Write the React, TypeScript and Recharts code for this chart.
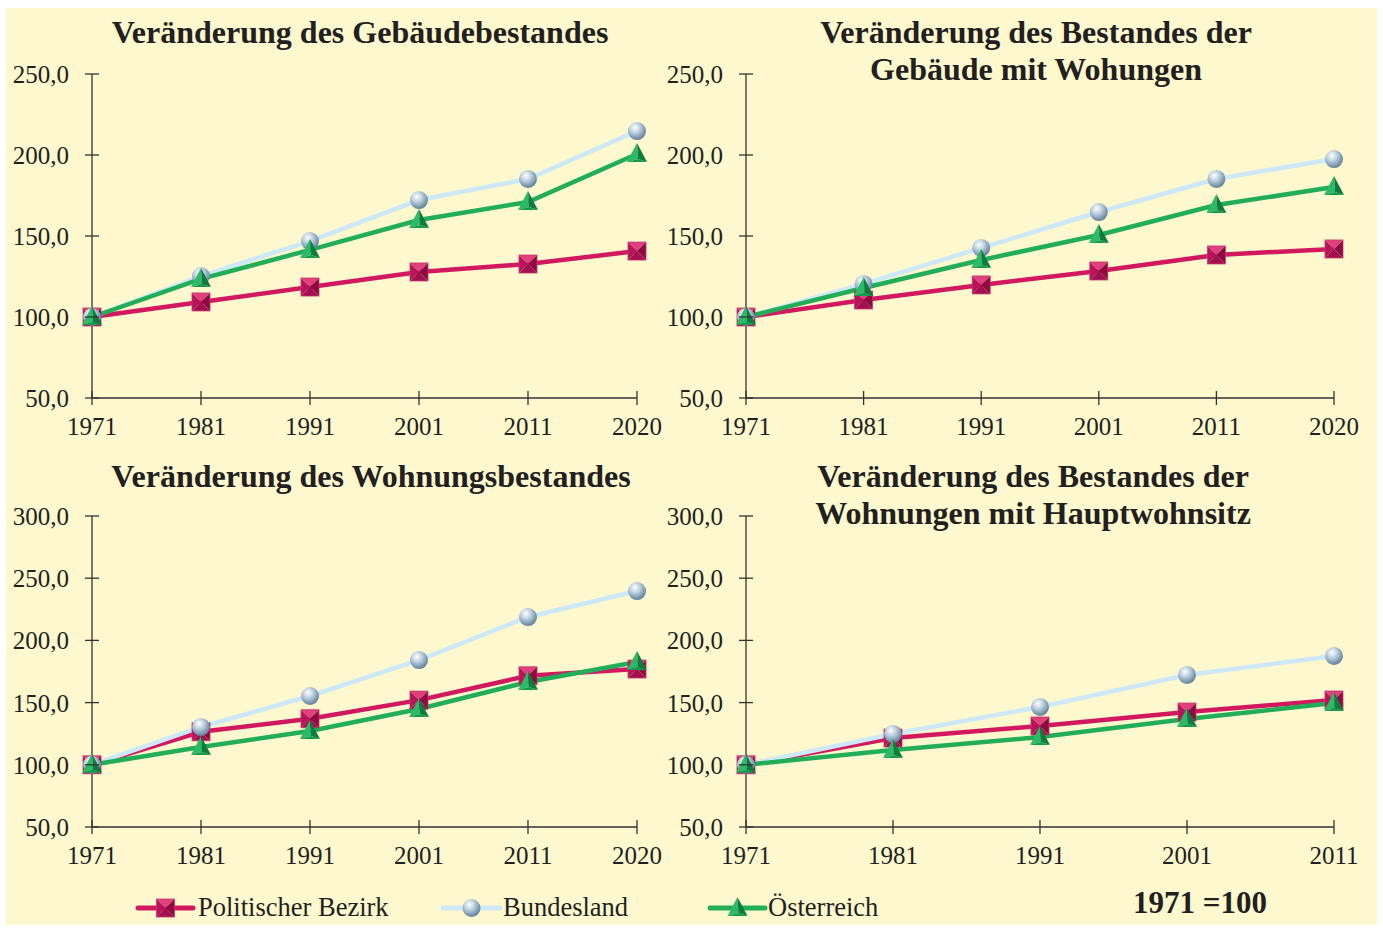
import React from 'react';
import { LineChart, Line, XAxis, YAxis } from 'recharts';

// ---------- data ----------
const yearsA = ['1971', '1981', '1991', '2001', '2011', '2020'];
const yearsB = ['1971', '1981', '1991', '2001', '2011'];

const gebBezirk = [100, 109.3, 118.5, 127.8, 132.7, 140.7];
const gebBundesland = [100, 125.3, 146.9, 172.2, 185.2, 214.8];
const gebOesterreich = [100, 123.5, 141.4, 159.9, 171.0, 200.6];

const gwBezirk = [100, 110.5, 119.8, 128.4, 138.3, 142.0];
const gwBundesland = [100, 120.4, 142.6, 164.8, 185.2, 197.5];
const gwOesterreich = [100, 117.9, 135.2, 150.6, 169.1, 180.2];

const wBezirk = [100, 126.5, 137.0, 152.0, 171.5, 177.0];
const wBundesland = [100, 130.4, 155.3, 184.2, 218.8, 239.7];
const wOesterreich = [100, 114.3, 127.2, 144.9, 166.6, 182.6];

const hwBezirk = [100, 121.5, 131.2, 142.4, 152.1];
const hwBundesland = [100, 124.8, 146.5, 172.2, 187.5];
const hwOesterreich = [100, 111.9, 122.3, 136.8, 149.7];

const ticksTop = [50, 100, 150, 200, 250];
const ticksBottom = [50, 100, 150, 200, 250, 300];

const seriesNames = ['Politischer Bezirk', 'Bundesland', 'Österreich'];
const baseNote = '1971 =100';

const titleGeb = ['Veränderung des Gebäudebestandes'];
const titleGW = ['Veränderung des Bestandes der', 'Gebäude mit Wohungen'];
const titleW = ['Veränderung des Wohnungsbestandes'];
const titleHW = ['Veränderung des Bestandes der', 'Wohnungen mit Hauptwohnsitz'];

// ---------- styles ----------
const W = 1383;
const H = 929;
const FONT = '"Liberation Serif", "Times New Roman", serif';
const TEXT = '#231F20';
const BG = '#FDF8CE';
const C_BEZ = '#D2195F';
const C_BUN = '#CDE8F6';
const C_OE = '#22AE58';

const build = (years: string[], a: number[], b: number[], c: number[]) =>
  years.map((y, i) => ({ year: y, bezirk: a[i], bundesland: b[i], oesterreich: c[i] }));

const fmt = (v: number) => v.toFixed(1).replace('.', ',');

// ---------- markers ----------
const SquareDot = (props: any) => {
  const { cx, cy } = props;
  if (cx == null || cy == null) return null;
  const s = 9;
  return (
    <g key={props.key ?? `${cx}-${cy}`}>
      <polygon points={`${cx - s},${cy - s} ${cx + s},${cy - s} ${cx},${cy}`} fill="#E0407C" />
      <polygon points={`${cx - s},${cy - s} ${cx - s},${cy + s} ${cx},${cy}`} fill="#B8145A" />
      <polygon points={`${cx + s},${cy - s} ${cx + s},${cy + s} ${cx},${cy}`} fill="#8C0B40" />
      <polygon points={`${cx - s},${cy + s} ${cx + s},${cy + s} ${cx},${cy}`} fill="#A31050" />
      <rect x={cx - s} y={cy - s} width={2 * s} height={2 * s} fill="none" stroke="#C8356F" strokeWidth={0.8} />
    </g>
  );
};

const BallDot = (props: any) => {
  const { cx, cy } = props;
  if (cx == null || cy == null) return null;
  return (
    <g key={props.key ?? `${cx}-${cy}`}>
      <circle cx={cx} cy={cy} r={9} fill="url(#ballGrad)" />
    </g>
  );
};

const TriDot = (props: any) => {
  const { cx, cy } = props;
  if (cx == null || cy == null) return null;
  const ax = cx, ay = cy - 11;
  const lx = cx - 10, rx = cx + 10, by = cy + 8;
  const mx = cx + 1, my = cy + 5;
  return (
    <g key={props.key ?? `${cx}-${cy}`}>
      <polygon points={`${ax},${ay} ${lx},${by} ${mx},${my}`} fill="#2DBA66" />
      <polygon points={`${ax},${ay} ${mx},${my} ${rx},${by}`} fill="#0E7C3D" />
      <polygon points={`${lx},${by} ${mx},${my} ${rx},${by}`} fill="#169A4C" />
    </g>
  );
};

// ---------- chart panel ----------
type PanelProps = {
  data: any[];
  L: number; R: number; T: number; B: number;
  ticks: number[];
  domain: [number, number];
};

const Panel = ({ data, L, R, T, B, ticks, domain }: PanelProps) => {
  const yW = 80;
  const xH = 30;
  const margin = { left: L - yW, right: W - R, top: T, bottom: H - B - xH };

  const YTick = (p: any) => {
    const y = p.y;
    return (
      <g>
        <line x1={L - 7} x2={L + 7} y1={y} y2={y} stroke="#333" strokeWidth={1.3} />
        <text x={L - 23} y={y} dy="0.36em" textAnchor="end" fontFamily={FONT} fontSize={25} fill={TEXT}>
          {fmt(p.payload.value)}
        </text>
      </g>
    );
  };
  const XTick = (p: any) => {
    const x = p.x;
    return (
      <g>
        <line x1={x} x2={x} y1={B - 7} y2={B + 7} stroke="#333" strokeWidth={1.3} />
        <text x={x} y={B + 37} textAnchor="middle" fontFamily={FONT} fontSize={25} fill={TEXT}>
          {p.payload.value}
        </text>
      </g>
    );
  };

  return (
    <div style={{ position: 'absolute', left: 0, top: 0 }}>
      <LineChart width={W} height={H} data={data} margin={margin}>
        <XAxis
          dataKey="year"
          interval={0}
          height={xH}
          axisLine={{ stroke: '#333', strokeWidth: 1.3 }}
          tickLine={false}
          tick={XTick}
        />
        <YAxis
          width={yW}
          domain={domain}
          ticks={ticks}
          interval={0}
          allowDataOverflow
          axisLine={{ stroke: '#333', strokeWidth: 1.3 }}
          tickLine={false}
          tick={YTick}
        />
        <Line dataKey="bezirk" stroke={C_BEZ} strokeWidth={4.5} dot={SquareDot} activeDot={false} isAnimationActive={false} />
        <Line dataKey="bundesland" stroke={C_BUN} strokeWidth={4.5} dot={BallDot} activeDot={false} isAnimationActive={false} />
        <Line dataKey="oesterreich" stroke={C_OE} strokeWidth={4.5} dot={TriDot} activeDot={false} isAnimationActive={false} />
      </LineChart>
    </div>
  );
};

const Title = ({ lines, cx, baseline }: { lines: string[]; cx: number; baseline: number }) => (
  <>
    {lines.map((t, i) => (
      <text key={i} x={cx} y={baseline + i * 37} textAnchor="middle" fontFamily={FONT} fontWeight="bold" fontSize={32} fill={TEXT}>
        {t}
      </text>
    ))}
  </>
);

export default function App() {
  const dGeb = build(yearsA, gebBezirk, gebBundesland, gebOesterreich);
  const dGW = build(yearsA, gwBezirk, gwBundesland, gwOesterreich);
  const dW = build(yearsA, wBezirk, wBundesland, wOesterreich);
  const dHW = build(yearsB, hwBezirk, hwBundesland, hwOesterreich);

  const legendY = 908;
  const legendItems = [
    { x1: 138, x2: 193, color: C_BEZ, Dot: SquareDot, tx: 198 },
    { x1: 443, x2: 500, color: C_BUN, Dot: BallDot, tx: 503 },
    { x1: 710, x2: 765, color: C_OE, Dot: TriDot, tx: 768 },
  ];

  return (
    <div style={{ position: 'absolute', left: 0, top: 0, width: W, height: H, background: '#fff' }}>
      <svg width={0} height={0} style={{ position: 'absolute' }}>
        <defs>
          <radialGradient id="ballGrad" cx="0.4" cy="0.35" r="0.7" fx="0.38" fy="0.3">
            <stop offset="0" stopColor="#FFFFFF" />
            <stop offset="0.35" stopColor="#C7D8E4" />
            <stop offset="0.8" stopColor="#7895AC" />
            <stop offset="1" stopColor="#5C7891" />
          </radialGradient>
        </defs>
      </svg>
      <div style={{ position: 'absolute', left: 6, top: 8, width: 1371, height: 917, background: BG }} />
      <Panel data={dGeb} L={92} R={637} T={74} B={398} ticks={ticksTop} domain={[50, 250]} />
      <Panel data={dGW} L={746} R={1334} T={74} B={398} ticks={ticksTop} domain={[50, 250]} />
      <Panel data={dW} L={92} R={637} T={516} B={827} ticks={ticksBottom} domain={[50, 300]} />
      <Panel data={dHW} L={746} R={1334} T={516} B={827} ticks={ticksBottom} domain={[50, 300]} />
      <svg width={W} height={H} style={{ position: 'absolute', left: 0, top: 0, pointerEvents: 'none' }}>
        <Title lines={titleGeb} cx={360} baseline={43} />
        <Title lines={titleGW} cx={1036} baseline={43} />
        <Title lines={titleW} cx={371} baseline={487} />
        <Title lines={titleHW} cx={1033} baseline={487} />
        {legendItems.map((it, i) => (
          <g key={i}>
            <line x1={it.x1} x2={it.x2} y1={legendY} y2={legendY} stroke={it.color} strokeWidth={5} strokeLinecap="round" />
            {it.Dot({ cx: (it.x1 + it.x2) / 2, cy: legendY, key: `lg${i}` })}
            <text x={it.tx} y={legendY + 8} fontFamily={FONT} fontSize={26.5} fill={TEXT}>
              {seriesNames[i]}
            </text>
          </g>
        ))}
        <text x={1200} y={913} textAnchor="middle" fontFamily={FONT} fontWeight="bold" fontSize={31} fill={TEXT}>
          {baseNote}
        </text>
      </svg>
    </div>
  );
}
